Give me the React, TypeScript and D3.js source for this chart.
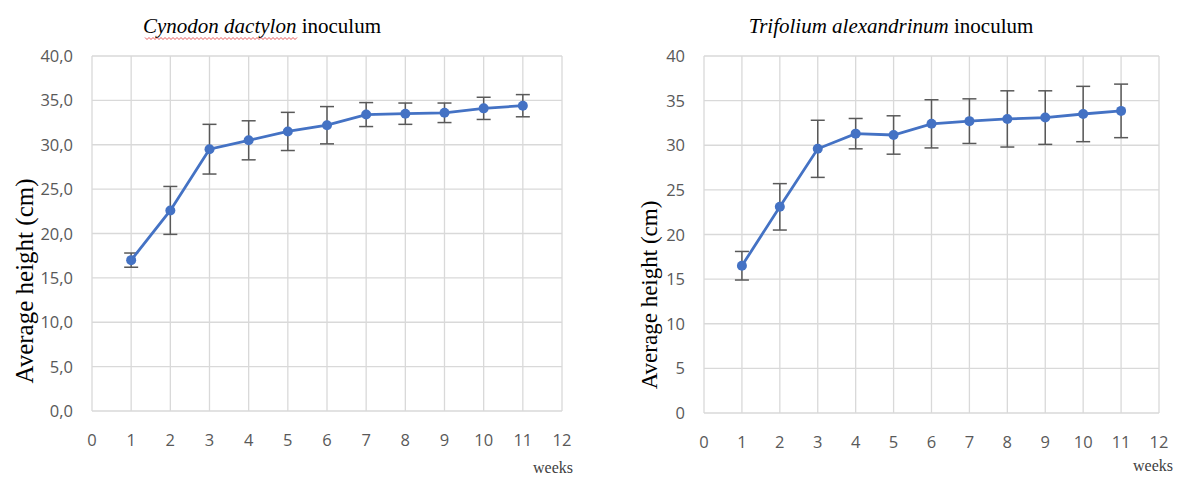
import React, { useEffect, useRef } from 'react';
import * as d3 from 'd3';

const weeks = [1, 2, 3, 4, 5, 6, 7, 8, 9, 10, 11];
const xTicks = [0, 1, 2, 3, 4, 5, 6, 7, 8, 9, 10, 11, 12];
const yTicks = [0, 5, 10, 15, 20, 25, 30, 35, 40];

// Cynodon dactylon inoculum
const cynodonMean = [17.0, 22.6, 29.5, 30.5, 31.5, 32.2, 33.4, 33.5, 33.6, 34.1, 34.4];
const cynodonErr = [0.8, 2.7, 2.8, 2.2, 2.15, 2.1, 1.35, 1.2, 1.1, 1.25, 1.25];

// Trifolium alexandrinum inoculum
const trifoliumMean = [16.5, 23.1, 29.6, 31.3, 31.15, 32.4, 32.7, 32.95, 33.1, 33.5, 33.85];
const trifoliumErr = [1.6, 2.6, 3.2, 1.7, 2.15, 2.7, 2.5, 3.15, 3.0, 3.1, 3.0];

interface PanelSpec {
  left: number;
  right: number;
  top: number;
  bottom: number;
  italic: string;
  rest: string;
  titleX: number;
  mean: number[];
  err: number[];
  tickFmt: (v: number) => string;
  yLabelX: number;
  yLabelY: number;
  yLabelSize: number;
  weeksX: number;
  weeksY: number;
  squiggle: boolean;
}

const panels: PanelSpec[] = [
  {
    left: 92, right: 562, top: 56, bottom: 411,
    italic: 'Cynodon dactylon', rest: ' inoculum', titleX: 262,
    mean: cynodonMean, err: cynodonErr,
    tickFmt: v => v.toFixed(1).replace('.', ','),
    yLabelX: 33, yLabelY: 281, yLabelSize: 25, weeksX: 553, weeksY: 473, squiggle: true,
  },
  {
    left: 704, right: 1159, top: 56, bottom: 413,
    italic: 'Trifolium alexandrinum', rest: ' inoculum', titleX: 891,
    mean: trifoliumMean, err: trifoliumErr,
    tickFmt: v => String(v),
    yLabelX: 657, yLabelY: 295, yLabelSize: 23, weeksX: 1153, weeksY: 471, squiggle: false,
  },
];

const App: React.FC = () => {
  const svgRef = useRef<SVGSVGElement>(null);

  useEffect(() => {
    const svg = d3.select(svgRef.current);
    svg.selectAll('*').remove();

    panels.forEach(p => {
      const x = d3.scaleLinear().domain([0, 12]).range([p.left, p.right]);
      const y = d3.scaleLinear().domain([0, 40]).range([p.bottom, p.top]);
      const g = svg.append('g');

      // grid
      g.selectAll('line.vgrid')
        .data(xTicks)
        .enter()
        .append('line')
        .attr('x1', d => x(d)).attr('x2', d => x(d))
        .attr('y1', p.top).attr('y2', p.bottom)
        .attr('stroke', '#d9d9d9').attr('stroke-width', 1.3);
      g.selectAll('line.hgrid')
        .data(yTicks)
        .enter()
        .append('line')
        .attr('x1', p.left).attr('x2', p.right)
        .attr('y1', d => y(d)).attr('y2', d => y(d))
        .attr('stroke', '#d9d9d9').attr('stroke-width', 1.3);

      // tick labels
      g.selectAll('text.xt')
        .data(xTicks)
        .enter()
        .append('text')
        .attr('x', d => x(d))
        .attr('y', p.bottom + 35)
        .attr('text-anchor', 'middle')
        .style('font-family', '"Open Sans", "Liberation Sans", sans-serif')
        .style('font-size', '16.5px')
        .style('fill', '#595959')
        .text(d => String(d));
      g.selectAll('text.yt')
        .data(yTicks)
        .enter()
        .append('text')
        .attr('x', p.left - 19)
        .attr('y', d => y(d) + 6)
        .attr('text-anchor', 'end')
        .style('font-family', '"Open Sans", "Liberation Sans", sans-serif')
        .style('font-size', '16.5px')
        .style('fill', '#595959')
        .text(d => p.tickFmt(d));

      // title
      const title = g.append('text')
        .attr('x', p.titleX)
        .attr('y', 33)
        .attr('text-anchor', 'middle')
        .style('font-family', '"Liberation Serif", "Times New Roman", serif')
        .style('font-size', '21px')
        .style('fill', '#000');
      title.append('tspan').style('font-style', 'italic').text(p.italic);
      title.append('tspan').text(p.rest);

      if (p.squiggle) {
        // spell-check style red wavy underline
        const pts: [number, number][] = [];
        let k = 0;
        for (let xx = 145; xx <= 297; xx += 2, k++) pts.push([xx, k % 2 === 0 ? 37.5 : 39.5]);
        g.append('path')
          .attr('d', d3.line()(pts))
          .attr('fill', 'none')
          .attr('stroke', '#e03030')
          .attr('stroke-width', 0.8);
      }

      // axis labels
      g.append('text')
        .attr('transform', `translate(${p.yLabelX},${p.yLabelY}) rotate(-90)`)
        .attr('text-anchor', 'middle')
        .style('font-family', '"Liberation Serif", "Times New Roman", serif')
        .style('font-size', `${p.yLabelSize}px`)
        .style('fill', '#000')
        .text('Average height (cm)');
      g.append('text')
        .attr('x', p.weeksX)
        .attr('y', p.weeksY)
        .attr('text-anchor', 'middle')
        .style('font-family', '"Liberation Serif", "Times New Roman", serif')
        .style('font-size', '16px')
        .style('fill', '#404040')
        .text('weeks');

      // error bars
      const eb = g.selectAll('g.eb')
        .data(weeks)
        .enter()
        .append('g')
        .attr('stroke', '#595959')
        .attr('stroke-width', 1.5);
      eb.append('line')
        .attr('x1', d => x(d)).attr('x2', d => x(d))
        .attr('y1', (d, i) => y(p.mean[i] + p.err[i]))
        .attr('y2', (d, i) => y(p.mean[i] - p.err[i]));
      eb.append('line')
        .attr('x1', d => x(d) - 7).attr('x2', d => x(d) + 7)
        .attr('y1', (d, i) => y(p.mean[i] + p.err[i]))
        .attr('y2', (d, i) => y(p.mean[i] + p.err[i]));
      eb.append('line')
        .attr('x1', d => x(d) - 7).attr('x2', d => x(d) + 7)
        .attr('y1', (d, i) => y(p.mean[i] - p.err[i]))
        .attr('y2', (d, i) => y(p.mean[i] - p.err[i]));

      // line + markers
      const line = d3.line<number>()
        .x(d => x(d))
        .y((d, i) => y(p.mean[i]));
      g.append('path')
        .datum(weeks)
        .attr('d', line)
        .attr('fill', 'none')
        .attr('stroke', '#4472c4')
        .attr('stroke-width', 2.8);
      g.selectAll('circle')
        .data(weeks)
        .enter()
        .append('circle')
        .attr('cx', d => x(d))
        .attr('cy', (d, i) => y(p.mean[i]))
        .attr('r', 5)
        .attr('fill', '#4472c4');
    });
  }, []);

  return (
    <svg
      ref={svgRef}
      width={1190}
      height={477}
      style={{ position: 'absolute', left: 0, top: 0, background: '#fff' }}
    />
  );
};

export default App;
